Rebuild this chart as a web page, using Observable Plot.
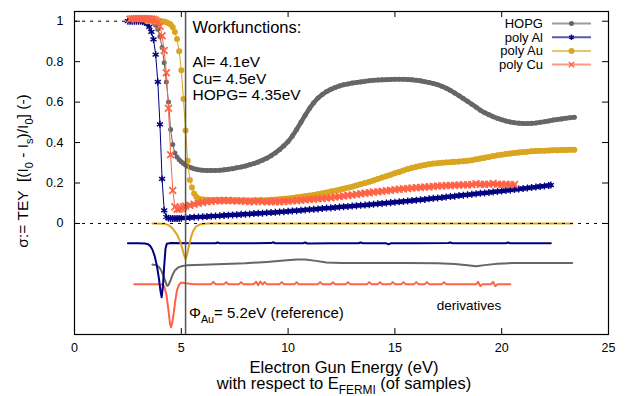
<!DOCTYPE html>
<html>
<head>
<meta charset="utf-8">
<script src="https://cdn.jsdelivr.net/npm/d3@7"></script>
<script src="https://cdn.jsdelivr.net/npm/@observablehq/plot@0.6"></script>
<style>
  html, body { margin: 0; padding: 0; background: #fff; }
  svg text { white-space: pre; }
</style>
</head>
<body>
<div id="chart"></div>
<script>
// Total electron yield sigma vs electron gun energy (eV, w.r.t. E_Fermi),
// measured on four samples, plus their derivatives (offset, unscaled).
// Each scan is kept in two parts: the yield edge and the slowly varying tail.

const xTicks = [0, 5, 10, 15, 20, 25];
const yTicks = [0, 0.2, 0.4, 0.6, 0.8, 1];

const seriesNames = ["HOPG", "poly Al", "poly Au", "poly Cu"];
const seriesColors = ["#666666", "#000080", "#daa520", "#ff6347"];

const auWorkfunction = 5.2; // reference line

// [energy (eV), sigma]
const hopgEdge = [
  [3.6,1.0],[3.7,0.993],[3.8,0.98],[3.9,0.96],[4.0,0.925],[4.1,0.87],[4.2,0.795],[4.3,0.70],[4.4,0.60],
  [4.5,0.465],[4.6,0.39],[4.7,0.348],[4.8,0.328],[4.9,0.315],[5.0,0.305],[5.1,0.296],[5.2,0.289],[5.3,0.283],
  [5.4,0.278],[5.5,0.274],[5.6,0.271],[5.7,0.268],[5.8,0.266],[5.9,0.264],[6.0,0.263]
];
const hopgTail = [
  [6.2,0.262],[6.4,0.262],[6.6,0.262],[6.8,0.263],[7.0,0.265],[7.2,0.268],[7.4,0.271],[7.6,0.275],[7.8,0.279],
  [8.0,0.284],[8.2,0.29],[8.4,0.296],[8.6,0.304],[8.8,0.313],[9.0,0.323],[9.2,0.335],[9.4,0.349],[9.6,0.365],
  [9.8,0.384],[10.0,0.405],[10.2,0.432],[10.4,0.465],[10.6,0.50],[10.8,0.535],[11.0,0.568],[11.2,0.597],
  [11.4,0.62],[11.6,0.638],[11.8,0.652],[12.0,0.663],[12.2,0.672],[12.4,0.68],[12.6,0.686],[12.8,0.69],
  [13.0,0.694],[13.2,0.697],[13.4,0.70],[13.6,0.703],[13.8,0.706],[14.0,0.708],[14.2,0.709],[14.4,0.71],
  [14.6,0.711],[14.8,0.712],[15.0,0.713],[15.2,0.713],[15.4,0.713],[15.6,0.712],[15.8,0.71],[16.0,0.708],
  [16.2,0.705],[16.4,0.701],[16.6,0.697],[16.8,0.692],[17.0,0.686],[17.2,0.678],[17.4,0.669],[17.6,0.658],
  [17.8,0.645],[18.0,0.632],[18.2,0.618],[18.4,0.604],[18.6,0.59],[18.8,0.575],[19.0,0.56],[19.2,0.548],
  [19.4,0.538],[19.6,0.528],[19.8,0.52],[20.0,0.513],[20.2,0.507],[20.4,0.502],[20.6,0.498],[20.8,0.496],
  [21.0,0.494],[21.2,0.494],[21.4,0.495],[21.6,0.497],[21.8,0.50],[22.0,0.503],[22.2,0.507],[22.4,0.511],
  [22.6,0.514],[22.8,0.517],[23.0,0.52],[23.2,0.523],[23.4,0.525]
];

const alEdge = [
  [2.5,1.0],[2.6,1.0],[2.7,1.0],[2.8,1.0],[2.9,1.0],[3.0,1.0],[3.1,1.0],[3.2,0.998],[3.3,0.995],[3.4,0.988],
  [3.5,0.972],[3.6,0.947],[3.7,0.91],[3.8,0.835],[3.9,0.70],[4.0,0.49],[4.1,0.22],[4.2,0.065],[4.3,0.032],
  [4.4,0.026],[4.5,0.025],[4.6,0.024],[4.7,0.024],[4.8,0.025],[4.9,0.025],[5.0,0.026]
];
const alTail = [
  [5.2,0.028],[5.4,0.029],[5.6,0.031],[5.8,0.032],[6.0,0.033],[6.2,0.034],[6.4,0.036],[6.6,0.037],[6.8,0.038],
  [7.0,0.04],[7.2,0.041],[7.4,0.042],[7.6,0.043],[7.8,0.045],[8.0,0.046],[8.2,0.047],[8.4,0.049],[8.6,0.05],
  [8.8,0.051],[9.0,0.053],[9.2,0.054],[9.4,0.055],[9.6,0.057],[9.8,0.058],[10.0,0.06],[10.2,0.062],[10.4,0.063],
  [10.6,0.065],[10.8,0.067],[11.0,0.069],[11.2,0.07],[11.4,0.072],[11.6,0.074],[11.8,0.076],[12.0,0.077],
  [12.2,0.079],[12.4,0.081],[12.6,0.083],[12.8,0.084],[13.0,0.086],[13.2,0.088],[13.4,0.09],[13.6,0.091],
  [13.8,0.093],[14.0,0.095],[14.2,0.097],[14.4,0.099],[14.6,0.101],[14.8,0.103],[15.0,0.105],[15.2,0.107],
  [15.4,0.109],[15.6,0.111],[15.8,0.113],[16.0,0.115],[16.2,0.117],[16.4,0.119],[16.6,0.122],[16.8,0.124],
  [17.0,0.126],[17.2,0.128],[17.4,0.131],[17.6,0.133],[17.8,0.135],[18.0,0.138],[18.2,0.14],[18.4,0.142],
  [18.6,0.144],[18.8,0.147],[19.0,0.149],[19.2,0.151],[19.4,0.153],[19.6,0.156],[19.8,0.158],[20.0,0.16],
  [20.2,0.163],[20.4,0.165],[20.6,0.168],[20.8,0.17],[21.0,0.173],[21.2,0.175],[21.4,0.178],[21.6,0.18],
  [21.8,0.183],[22.0,0.185],[22.2,0.188],[22.3,0.19]
];

const auEdge = [
  [3.4,1.0],[3.5,1.0],[3.6,1.0],[3.7,1.0],[3.8,1.0],[3.9,1.0],[4.0,1.0],[4.1,0.999],[4.2,0.998],[4.3,0.995],
  [4.4,0.99],[4.5,0.984],[4.6,0.97],[4.7,0.947],[4.8,0.912],[4.9,0.852],[5.0,0.757],[5.1,0.615],[5.2,0.46],
  [5.3,0.31],[5.4,0.215],[5.5,0.178],[5.6,0.148],[5.7,0.132],[5.8,0.124],[5.9,0.12],[6.0,0.118]
];
const auTail = [
  [6.2,0.117],[6.4,0.116],[6.6,0.116],[6.8,0.115],[7.0,0.115],[7.2,0.114],[7.4,0.114],[7.6,0.113],[7.8,0.113],
  [8.0,0.113],[8.2,0.113],[8.4,0.113],[8.6,0.114],[8.8,0.114],[9.0,0.115],[9.2,0.117],[9.4,0.118],[9.6,0.12],
  [9.8,0.122],[10.0,0.124],[10.2,0.126],[10.4,0.129],[10.6,0.132],[10.8,0.135],[11.0,0.138],[11.2,0.141],
  [11.4,0.145],[11.6,0.149],[11.8,0.153],[12.0,0.158],[12.2,0.162],[12.4,0.167],[12.6,0.172],[12.8,0.177],
  [13.0,0.182],[13.2,0.188],[13.4,0.194],[13.6,0.20],[13.8,0.206],[14.0,0.213],[14.2,0.22],[14.4,0.227],
  [14.6,0.234],[14.8,0.241],[15.0,0.248],[15.2,0.255],[15.4,0.262],[15.6,0.269],[15.8,0.275],[16.0,0.28],
  [16.2,0.285],[16.4,0.289],[16.6,0.293],[16.8,0.296],[17.0,0.298],[17.2,0.30],[17.4,0.302],[17.6,0.303],
  [17.8,0.305],[18.0,0.306],[18.2,0.308],[18.4,0.31],[18.6,0.313],[18.8,0.317],[19.0,0.321],[19.2,0.325],
  [19.4,0.329],[19.6,0.333],[19.8,0.337],[20.0,0.34],[20.2,0.343],[20.4,0.346],[20.6,0.349],[20.8,0.351],
  [21.0,0.353],[21.2,0.355],[21.4,0.357],[21.6,0.358],[21.8,0.359],[22.0,0.36],[22.2,0.361],[22.4,0.362],
  [22.6,0.362],[22.8,0.363],[23.0,0.363],[23.2,0.364],[23.4,0.364]
];

const cuEdge = [
  [2.6,1.01],[2.7,1.012],[2.8,1.012],[2.9,1.012],[3.0,1.012],[3.1,1.012],[3.2,1.012],[3.3,1.012],[3.4,1.012],
  [3.5,1.012],[3.6,1.011],[3.7,1.01],[3.8,1.005],[3.9,0.995],[4.0,0.975],[4.1,0.928],[4.2,0.855],[4.3,0.745],
  [4.4,0.57],[4.5,0.34],[4.6,0.163],[4.7,0.082],[4.8,0.07],[4.9,0.071],[5.0,0.076],[5.1,0.082],[5.2,0.086]
];
const cuTail = [
  [5.4,0.09],[5.6,0.095],[5.8,0.10],[6.0,0.104],[6.2,0.107],[6.4,0.11],[6.6,0.112],[6.8,0.113],[7.0,0.113],
  [7.2,0.114],[7.4,0.112],[7.6,0.111],[7.8,0.112],[8.0,0.11],[8.2,0.109],[8.4,0.108],[8.6,0.112],[8.8,0.108],
  [9.0,0.107],[9.2,0.107],[9.4,0.108],[9.6,0.108],[9.8,0.109],[10.0,0.11],[10.2,0.112],[10.4,0.113],
  [10.6,0.115],[10.8,0.117],[11.0,0.119],[11.2,0.12],[11.4,0.122],[11.6,0.124],[11.8,0.126],[12.0,0.128],
  [12.2,0.131],[12.4,0.133],[12.6,0.136],[12.8,0.139],[13.0,0.141],[13.2,0.144],[13.4,0.147],[13.6,0.15],
  [13.8,0.152],[14.0,0.155],[14.2,0.157],[14.4,0.159],[14.6,0.162],[14.8,0.164],[15.0,0.167],[15.2,0.169],
  [15.4,0.171],[15.6,0.173],[15.8,0.175],[16.0,0.177],[16.2,0.178],[16.4,0.18],[16.6,0.181],[16.8,0.183],
  [17.0,0.185],[17.2,0.186],[17.4,0.187],[17.6,0.188],[17.8,0.189],[18.0,0.19],[18.2,0.191],[18.4,0.191],
  [18.6,0.192],[18.8,0.196],[19.0,0.193],[19.2,0.193],[19.4,0.194],[19.6,0.197],[19.8,0.194],[20.0,0.193],
  [20.2,0.193],[20.4,0.192],[20.6,0.192]
];

// derivatives, drawn with a vertical offset per sample
const hopgDeriv = [
  [3.65,-0.203],[3.8,-0.206],[3.95,-0.215],[4.05,-0.23],[4.15,-0.255],[4.25,-0.285],[4.33,-0.308],[4.4,-0.305],
  [4.5,-0.28],[4.6,-0.252],[4.7,-0.232],[4.85,-0.218],[5.0,-0.212],[5.3,-0.206],[6.0,-0.204],[7.0,-0.201],
  [8.0,-0.197],[9.0,-0.19],[9.8,-0.183],[10.4,-0.178],[10.8,-0.178],[11.3,-0.185],[11.8,-0.193],[12.5,-0.196],
  [14.0,-0.196],[15.5,-0.196],[17.0,-0.197],[17.8,-0.201],[18.4,-0.207],[18.8,-0.212],[19.2,-0.206],
  [19.8,-0.199],[20.5,-0.196],[22.0,-0.195],[23.3,-0.195]
];
const alDeriv = [
  [2.5,-0.098],[3.0,-0.098],[3.3,-0.099],[3.45,-0.103],[3.55,-0.112],[3.65,-0.13],[3.75,-0.16],[3.85,-0.205],
  [3.95,-0.27],[4.02,-0.33],[4.08,-0.365],[4.14,-0.31],[4.2,-0.21],[4.26,-0.125],[4.32,-0.1],[4.5,-0.097],
  [5.5,-0.098],[6.6,-0.098],[6.7,-0.094],[6.8,-0.098],[8.0,-0.098],[9.2,-0.097],[9.3,-0.093],[9.4,-0.098],
  [10.7,-0.098],[10.8,-0.094],[10.9,-0.099],[12.0,-0.098],[13.3,-0.098],[13.4,-0.094],[13.5,-0.098],
  [14.6,-0.098],[14.7,-0.103],[14.8,-0.098],[16.0,-0.098],[17.5,-0.097],[17.6,-0.094],[17.7,-0.098],
  [19.0,-0.098],[20.2,-0.098],[20.3,-0.094],[20.4,-0.098],[22.3,-0.098]
];
const auDeriv = [
  [3.65,0],[4.2,-0.001],[4.4,-0.008],[4.6,-0.025],[4.8,-0.055],[4.95,-0.09],[5.05,-0.125],[5.13,-0.158],
  [5.2,-0.175],[5.27,-0.155],[5.35,-0.115],[5.45,-0.07],[5.55,-0.038],[5.7,-0.014],[5.9,-0.004],[6.2,0],[23.3,0]
];
const cuDeriv = [
  [2.8,-0.30],[3.5,-0.30],[3.9,-0.30],[4.1,-0.302],[4.2,-0.312],[4.3,-0.35],[4.4,-0.43],[4.47,-0.495],
  [4.52,-0.513],[4.58,-0.49],[4.65,-0.44],[4.72,-0.38],[4.8,-0.33],[4.9,-0.302],[5.0,-0.292],[5.2,-0.296],
  [5.6,-0.30],[6.4,-0.30],[6.5,-0.289],[6.6,-0.30],[7.0,-0.30],[7.1,-0.29],[7.2,-0.30],[7.7,-0.30],[7.8,-0.29],
  [7.9,-0.30],[8.4,-0.30],[8.5,-0.288],[8.6,-0.305],[8.7,-0.287],[8.8,-0.302],[8.9,-0.29],[9.0,-0.30],
  [9.6,-0.30],[9.7,-0.29],[9.8,-0.30],[10.3,-0.30],[10.4,-0.291],[10.5,-0.30],[11.4,-0.30],[11.5,-0.29],
  [11.6,-0.30],[12.0,-0.30],[12.1,-0.291],[12.2,-0.30],[12.7,-0.30],[12.8,-0.29],[12.9,-0.30],[13.7,-0.30],
  [13.8,-0.29],[13.9,-0.30],[14.2,-0.30],[14.3,-0.29],[14.4,-0.30],[14.8,-0.30],[14.9,-0.29],[15.0,-0.30],
  [15.3,-0.30],[15.4,-0.29],[15.5,-0.30],[15.9,-0.30],[16.0,-0.29],[16.1,-0.30],[16.4,-0.30],[16.5,-0.29],
  [16.6,-0.30],[17.2,-0.30],[17.3,-0.29],[17.4,-0.30],[18.8,-0.30],[18.9,-0.289],[19.0,-0.31],[19.1,-0.30],
  [19.5,-0.30],[19.6,-0.289],[19.7,-0.31],[19.8,-0.30],[20.4,-0.30]
];

const W = 630, H = 396;
const M = {left: 74, right: 22, top: 11, bottom: 62};
const frameW = W - M.left - M.right;
const frameH = H - M.top - M.bottom;
const font = "'Liberation Sans', Arial, Helvetica, sans-serif";

const X = d => d[0], Y = d => d[1];
const [cHopg, cAl, cAu, cCu] = seriesColors;

// one scan: thin connecting line, dense marker band on the tail, markers everywhere
function scan(edge, tail, color, band, dotOptions) {
  const all = [...edge, ...tail];
  return [
    Plot.line(all, {x: X, y: Y, stroke: color, strokeWidth: 1}),
    Plot.line([edge[edge.length - 1], ...tail], {x: X, y: Y, stroke: color, strokeWidth: band, strokeLinecap: "round"}),
    Plot.dot(all, {x: X, y: Y, ...dotOptions})
  ];
}

const plot = Plot.plot({
  width: W, height: H,
  marginLeft: M.left, marginRight: M.right, marginTop: M.top, marginBottom: M.bottom,
  x: {domain: [0, 25]},
  y: {domain: [-0.549, 1.048]},
  style: {fontFamily: font, fontSize: "12.5px", color: "black", background: "white", overflow: "visible"},
  marks: [
    // reference level
    Plot.ruleY([1], {x1: 0, x2: 2.5, stroke: "black", strokeDasharray: "3,5"}),

    // measured yield
    scan(hopgEdge, hopgTail, cHopg, 4.6, {r: 2.5, fill: cHopg, stroke: "none"}),
    scan(alEdge, alTail, cAl, 4.2, {symbol: "asterisk", r: 3.3, stroke: cAl, strokeWidth: 1.4}),
    scan(auEdge, auTail, cAu, 5.4, {r: 3, fill: cAu, stroke: "none"}),
    scan(cuEdge, cuTail, cCu, 4.4, {symbol: "times", r: 3.2, stroke: cCu, strokeWidth: 1.8}),

    // derivatives
    Plot.line(hopgDeriv, {x: X, y: Y, stroke: cHopg, strokeWidth: 2}),
    Plot.line(cuDeriv, {x: X, y: Y, stroke: cCu, strokeWidth: 2}),
    Plot.line(alDeriv, {x: X, y: Y, stroke: cAl, strokeWidth: 2}),
    Plot.line(auDeriv, {x: X, y: Y, stroke: cAu, strokeWidth: 2}),

    Plot.ruleX([auWorkfunction], {stroke: "#555555", strokeWidth: 1.5}),
    Plot.ruleY([0], {stroke: "black", strokeDasharray: "3,5"}),

    // frame, inward mirrored ticks and tick labels
    Plot.frame({stroke: "black", strokeWidth: 1.2}),
    Plot.tickX(xTicks, {x: d => d, insetTop: frameH - 6, stroke: "black"}),
    Plot.tickX(xTicks, {x: d => d, insetBottom: frameH - 6, stroke: "black"}),
    Plot.tickY(yTicks, {y: d => d, insetRight: frameW - 6, stroke: "black"}),
    Plot.tickY(yTicks, {y: d => d, insetLeft: frameW - 6, stroke: "black"}),
    Plot.axisX(xTicks, {anchor: "bottom", tickSize: 0, tickPadding: 9, label: null, fontSize: 12.5}),
    Plot.axisY(yTicks, {anchor: "left", tickSize: 0, tickPadding: 11, label: null, fontSize: 12.5,
                        tickFormat: d3.format("~g")})
  ]
});

document.getElementById("chart").appendChild(plot);

const sx = plot.scale("x"), sy = plot.scale("y");
const svg = d3.select(plot);

// text with optional subscripts: parts are strings or {sub: "..."}
function richText(px, py, parts, {size, anchor = "start", rotate = 0}) {
  const t = svg.append("text")
    .attr("font-family", font)
    .attr("font-size", size)
    .attr("fill", "black")
    .attr("text-anchor", anchor)
    .attr("transform", `translate(${px},${py}) rotate(${rotate})`);
  const shift = size * 0.3;
  let lowered = false;
  for (const p of parts) {
    const span = t.append("tspan");
    if (typeof p === "string") {
      span.text(p);
      if (lowered) { span.attr("dy", -shift); lowered = false; }
    } else {
      span.text(p.sub).attr("font-size", size * 0.72).attr("dy", shift);
      lowered = true;
    }
  }
  return t;
}

// annotations
richText(sx.apply(5.55), sy.apply(0.94), ["Workfunctions:"], {size: 16.5});
richText(sx.apply(5.55), sy.apply(0.77), ["Al= 4.1eV"], {size: 15.5});
richText(sx.apply(5.55), sy.apply(0.688), ["Cu= 4.5eV"], {size: 15.5});
richText(sx.apply(5.55), sy.apply(0.606), ["HOPG= 4.35eV"], {size: 15.5});
richText(sx.apply(5.38), sy.apply(-0.47), ["Φ", {sub: "Au"}, "= 5.2eV (reference)"], {size: 15});
richText(sx.apply(16.98), sy.apply(-0.43), ["derivatives"], {size: 13.5});

// axis titles
richText(M.left + frameW / 2 + 3, 373, ["Electron Gun Energy (eV)"], {size: 16.5, anchor: "middle"});
richText(M.left + frameW / 2 + 3, 389, ["with respect to E", {sub: "FERMI"}, " (of samples)"], {size: 16.5, anchor: "middle"});
richText(28, M.top + 160, ["σ:= TEY  [(I", {sub: "0"}, " - I", {sub: "s"}, ")/I", {sub: "0"}, "] (-)"],
         {size: 15.5, anchor: "middle", rotate: -90});

// key
const keyRight = M.left + frameW - 65, keyY0 = 23.5, keyDy = 13.7;
const keySymbols = ["circle", "asterisk", "circle", "times"];
seriesNames.forEach((name, i) => {
  const y = keyY0 + i * keyDy;
  richText(keyRight, y + 4.5, [name], {size: 13, anchor: "end"});
  svg.append("line")
    .attr("x1", keyRight + 9).attr("x2", keyRight + 48)
    .attr("y1", y).attr("y2", y)
    .attr("stroke", seriesColors[i]).attr("stroke-opacity", 0.65).attr("stroke-width", 2);
  const sym = d3.symbol(keySymbols[i] === "circle" ? d3.symbolCircle
                        : keySymbols[i] === "asterisk" ? d3.symbolAsterisk : d3.symbolTimes,
                        i === 2 ? 28 : 20)();
  const path = svg.append("path").attr("d", sym).attr("transform", `translate(${keyRight + 28.5},${y})`);
  if (keySymbols[i] === "circle") path.attr("fill", seriesColors[i]);
  else path.attr("fill", "none").attr("stroke", seriesColors[i]).attr("stroke-width", 1.4);
});
</script>
</body>
</html>
